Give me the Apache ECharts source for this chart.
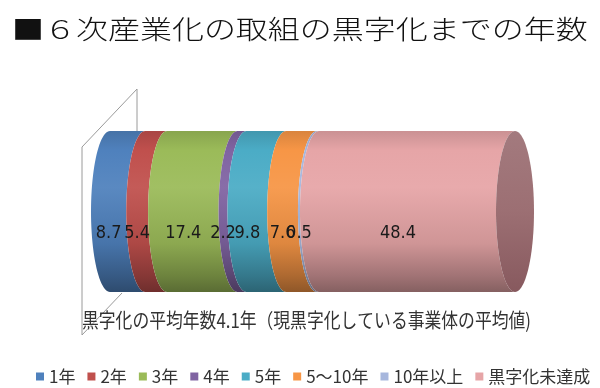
<!DOCTYPE html>
<html><head><meta charset="utf-8">
<script src="https://cdn.jsdelivr.net/npm/echarts@6/dist/echarts.min.js"></script>
<style>html,body{margin:0;padding:0;background:#fff}#c{width:600px;height:388px}</style>
</head><body><div id="c"></div>
<script>
var categories = ['1年', '2年', '3年', '4年', '5年', '5～10年', '10年以上', '黒字化未達成'];
var values = [8.7, 5.4, 17.4, 2.2, 9.8, 7.6, 0.5, 48.4];
var colors = ['#4F81BD', '#C0504D', '#9BBB59', '#8064A2', '#4BACC6', '#F79646', '#A7B7DD', '#E6A5A7'];
var capColor = '#9C6F73';
var titleText = '■６次産業化の取組の黒字化までの年数';
var noteText = '黒字化の平均年数4.1年（現黒字化している事業体の平均値)';
var axisMin = 0, axisMax = 100;

var RX = 19;
var labelFont = "'Liberation Sans Narrow','DejaVu Sans Condensed','Liberation Sans',sans-serif";
var jpFont = "'Noto Sans CJK JP','Noto Sans CJK SC',sans-serif";

function hexToRgb(h){h=h.replace('#','');return [parseInt(h.substr(0,2),16),parseInt(h.substr(2,2),16),parseInt(h.substr(4,2),16)];}
function shade(h,f){var c=hexToRgb(h);return 'rgb('+c.map(function(v){return Math.max(0,Math.min(255,Math.round(f>1? v+(255-v)*(f-1):v*f)));}).join(',')+')';}
function grad(h){
  return new echarts.graphic.LinearGradient(0,0,0,1,[
    {offset:0,color:shade(h,0.88)},
    {offset:0.12,color:shade(h,1.0)},
    {offset:0.35,color:shade(h,1.06)},
    {offset:0.7,color:shade(h,0.9)},
    {offset:0.9,color:shade(h,0.7)},
    {offset:1,color:shade(h,0.58)}
  ]);
}

var starts = []; var acc = 0;
values.forEach(function(v){ starts.push(acc); acc += v; });

function arcPts(xc, cy, ry, t0, t1, n){
  var p=[];
  for(var i=0;i<=n;i++){var t=t0+(t1-t0)*i/n;p.push([xc-RX*Math.cos(t), cy+ry*Math.sin(t)]);}
  return p;
}

function segRender(idx){
  var isLast = idx === values.length-1;
  return function(params, api){
    var a=api.value(0), b=api.value(1);
    var pa=api.coord([a,0]), pb=api.coord([b,0]);
    var ry=api.size([0,1])[1]/2, cy=pa[1];
    var pts=[[pa[0],cy-ry],[pb[0],cy-ry]];
    pts=pts.concat(arcPts(pb[0],cy,ry,-Math.PI/2,Math.PI/2,48));
    pts.push([pa[0],cy+ry]);
    pts=pts.concat(arcPts(pa[0],cy,ry,Math.PI/2,-Math.PI/2,48));
    var children=[{type:'polygon',shape:{points:pts},style:{fill:grad(colors[idx])}}];
    if(isLast){
      var ep=[];
      for(var i=0;i<=96;i++){var t=2*Math.PI*i/96;ep.push([pb[0]+RX*Math.cos(t),cy+ry*Math.sin(t)]);}
      children.push({type:'polygon',shape:{points:ep},style:{fill:new echarts.graphic.LinearGradient(0,0,0,1,[
        {offset:0,color:'#A37A7E'},{offset:0.5,color:capColor},{offset:1,color:'#87595E'}])}});
    }
    return {type:'group',children:children};
  };
}

function labelRender(params, api){
  var a=api.value(0), b=api.value(1), v=api.value(3);
  var pa=api.coord([a,0]), pb=api.coord([b,0]);
  var ry=api.size([0,1])[1]/2, cy=pa[1];
  return {type:'text',x:(pa[0]+pb[0])/2-RX,y:cy+ry*0.27,
    style:{text:String(v),fill:'#1a1a1a',fontSize:18,fontFamily:labelFont,
      textAlign:'center',textVerticalAlign:'middle',align:'center',verticalAlign:'middle'}};
}

var series = categories.map(function(name,i){
  return {name:name,type:'custom',renderItem:segRender(i),z:2,
    itemStyle:{color:colors[i]},encode:{x:[0,1],y:2},
    data:[[starts[i],starts[i]+values[i],0]]};
});
series.push({name:'labels',type:'custom',renderItem:labelRender,z:10,silent:true,
  encode:{x:[0,1],y:2},
  data:categories.map(function(n,i){return [starts[i],starts[i]+values[i],0,values[i]];})});

var chart = echarts.init(document.getElementById('c'));
chart.setOption({
  animation:false,
  backgroundColor:'#fff',
  grid:{left:110,right:85,top:131,height:161},
  xAxis:{type:'value',min:axisMin,max:axisMax,show:false},
  yAxis:{type:'category',data:[''],show:false},
  legend:{data:categories,left:31,top:363,width:568,padding:[5,0,5,5],icon:'rect',itemWidth:8,itemHeight:8,itemGap:12,
    textStyle:{fontSize:17,fontFamily:jpFont,color:'#333'}},
  graphic:[
    {type:'line',z:0,shape:{x1:137,y1:89,x2:137,y2:131},style:{stroke:'#9a9a9a',lineWidth:1}},
    {type:'line',z:0,shape:{x1:137,y1:89,x2:82,y2:147},style:{stroke:'#9a9a9a',lineWidth:1}},
    {type:'line',z:0,shape:{x1:82,y1:147,x2:82,y2:335},style:{stroke:'#9a9a9a',lineWidth:1}},
    {type:'line',z:0,shape:{x1:82,y1:335,x2:122,y2:293},style:{stroke:'#9a9a9a',lineWidth:1}},
    {type:'text',x:12,y:29,scaleX:1.23,scaleY:1,
      style:{text:titleText,fill:'#111',fontSize:26,fontWeight:300,fontFamily:jpFont,textVerticalAlign:'middle',verticalAlign:'middle'}},
    {type:'text',x:82,y:320,scaleX:0.84,scaleY:1,
      style:{text:noteText,fill:'#333',fontSize:20,fontFamily:jpFont,textVerticalAlign:'middle',verticalAlign:'middle'}}
  ],
  series:series
});
</script></body></html>
